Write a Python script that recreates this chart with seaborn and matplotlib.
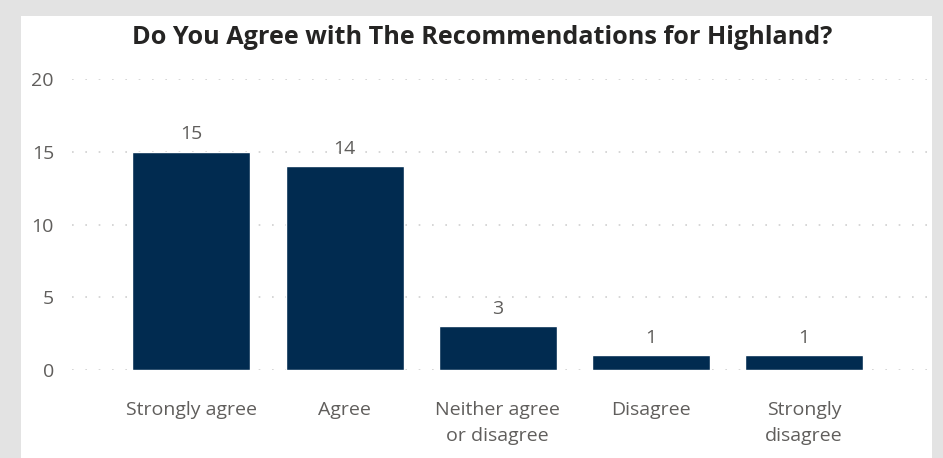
import matplotlib
matplotlib.use("Agg")
import matplotlib.pyplot as plt
import seaborn as sns
import pandas as pd
from matplotlib.patches import Rectangle

categories = ["Strongly agree", "Agree", "Neither agree\nor disagree", "Disagree", "Strongly\ndisagree"]
counts = [15, 14, 3, 1, 1]
yticks = [0, 5, 10, 15, 20]
title = "Do You Agree with The Recommendations for Highland?"

sns.set_theme(style="white")
plt.rcParams['font.family'] = ['Open Sans', 'DejaVu Sans']

W, H = 943, 458
fig = plt.figure(figsize=(W / 100, H / 100), dpi=100, facecolor="#E3E3E3")
fig.patches.append(Rectangle((21 / W, 0), (932 - 21) / W, (H - 16) / H,
                             transform=fig.transFigure, facecolor="white",
                             edgecolor="none", zorder=-5))

left, right = 72, 928
top, bottom = 79, 370
ax = fig.add_axes([left / W, 1 - bottom / H, (right - left) / W, (bottom - top) / H])
ax.set_facecolor("none")
ax.set_zorder(2)

df = pd.DataFrame({"cat": categories, "n": counts})
sns.barplot(data=df, x="cat", y="n", color="#012B50", saturation=1, width=0.77, ax=ax, zorder=3)

for i, v in enumerate(counts):
    ax.text(i, v + 0.6, str(v), ha="center", va="bottom", fontsize=14, color="#605E5C")

ax.set_ylim(0, 20)
ax.set_xlim(-0.78, 4.81)
ax.set_yticks(yticks)
ax.set_yticklabels([str(t) for t in yticks], fontsize=14, color="#605E5C")
ax.set_xticks(range(len(categories)))
ax.set_xticklabels(categories, fontsize=14, color="#605E5C", linespacing=1.6)
ax.tick_params(axis="both", length=0)
ax.tick_params(axis="y", pad=13)
ax.tick_params(axis="x", pad=22)
ax.set_xlabel("")
ax.set_ylabel("")
for s in ax.spines.values():
    s.set_visible(False)
ax.yaxis.grid(True, color="#CFCFCF", linestyle=(0, (1, 7)), linewidth=1.2, zorder=0)
ax.set_axisbelow(True)

t = fig.text(482 / W, 1 - 37 / H, title, ha="center", va="center", fontsize=18.2,
             fontweight="bold", color="#252423")
t.set_zorder(5)

fig.savefig("out.png", dpi=100, facecolor=fig.get_facecolor())
